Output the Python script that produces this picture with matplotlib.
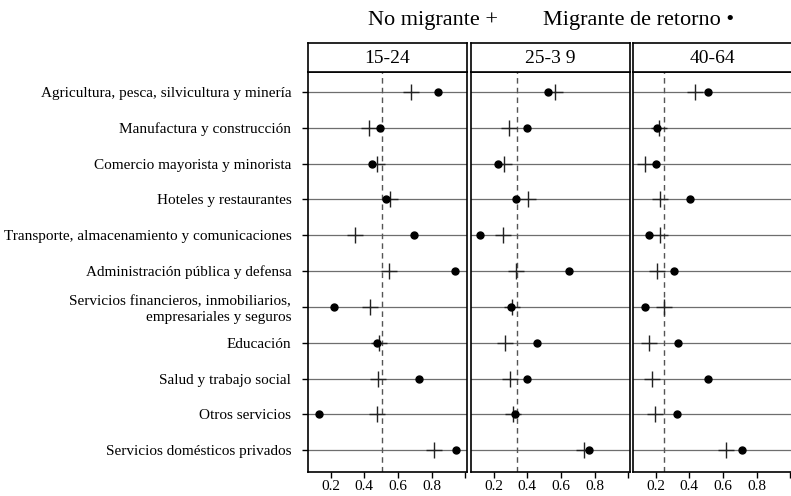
import numpy as np
import matplotlib

matplotlib.rc("font", family=["Liberation Serif", "DejaVu Serif"])
import matplotlib.pyplot as plt

sectores = [
    "Agricultura, pesca, silvicultura y minería",
    "Manufactura y construcción",
    "Comercio mayorista y minorista",
    "Hoteles y restaurantes",
    "Transporte, almacenamiento y comunicaciones",
    "Administración pública y defensa",
    "Servicios financieros, inmobiliarios,\nempresariales y seguros",
    "Educación",
    "Salud y trabajo social",
    "Otros servicios",
    "Servicios domésticos privados",
]
edades = ["15-24", "25-3 9", "40-64"]

# no migrante (+) por grupo de edad
no_migrante = [
    [0.68, 0.43, 0.474, 0.55, 0.345, 0.544, 0.435, 0.486, 0.482, 0.476, 0.811],
    [0.566, 0.29, 0.264, 0.404, 0.254, 0.33, 0.31, 0.266, 0.296, 0.314, 0.736],
    [0.436, 0.22, 0.136, 0.228, 0.228, 0.206, 0.25, 0.162, 0.18, 0.198, 0.618],
]
# migrante de retorno (punto) por grupo de edad
retorno = [
    [0.835, 0.494, 0.446, 0.528, 0.693, 0.936, 0.222, 0.476, 0.722, 0.129, 0.946],
    [0.524, 0.398, 0.224, 0.33, 0.118, 0.646, 0.304, 0.46, 0.40, 0.328, 0.766],
    [0.51, 0.206, 0.204, 0.402, 0.158, 0.308, 0.134, 0.33, 0.508, 0.326, 0.714],
]
promedio = [0.506, 0.34, 0.25]

W, H = 791, 496
fig = plt.figure(figsize=(W / 100, H / 100), dpi=100)

lefts = [308, 471, 633]
pw = 159
top, bottom = 72, 472
strip_top = 43
filas = np.arange(1, len(sectores) + 1)

for i, x0 in enumerate(lefts):
    ax = fig.add_axes([x0 / W, 1 - bottom / H, pw / W, (bottom - top) / H])
    for y in filas:
        ax.axhline(y, color="#6e6e6e", lw=0.9, zorder=1)
    ax.axvline(promedio[i], color="#555555", lw=1.0, ls=(0, (4, 3)), zorder=1)
    ax.plot(no_migrante[i], filas, ls="none", marker="+", ms=11, mew=1.0,
            color="#222222", zorder=3)
    ax.plot(retorno[i], filas, ls="none", marker="o", ms=5, color="black", zorder=4)
    ax.set_xlim(0.065, 1.01)
    ax.set_ylim(len(sectores) + 0.61, 0.44)
    ax.set_xticks([0.2, 0.4, 0.6, 0.8, 1.0])
    ax.set_xticklabels(["0.2", "0.4", "0.6", "0.8", ""], fontsize=11)
    ax.tick_params(axis="x", direction="out", length=4, width=1, pad=2)
    ax.set_yticks(filas)
    if i == 0:
        ax.set_yticklabels(sectores, fontsize=11, linespacing=1.3)
        ax.tick_params(axis="y", direction="out", length=4, width=1, pad=8)
    else:
        ax.set_yticklabels([])
        ax.tick_params(axis="y", length=0)
    for s in ax.spines.values():
        s.set_linewidth(1.2)

    # encabezado del panel
    sx = fig.add_axes([x0 / W, 1 - top / H, pw / W, (top - strip_top) / H])
    sx.set_xticks([])
    sx.set_yticks([])
    for s in sx.spines.values():
        s.set_linewidth(1.2)
    sx.text(0.5, 0.45, edades[i], ha="center", va="center", fontsize=14,
            transform=sx.transAxes)

fig.text(368 / W, 1 - 20 / H, "No migrante +", ha="left", va="center", fontsize=16)
fig.text(543 / W, 1 - 20 / H, "Migrante de retorno •", ha="left", va="center",
         fontsize=16)

fig.savefig("out.png", dpi=100)
